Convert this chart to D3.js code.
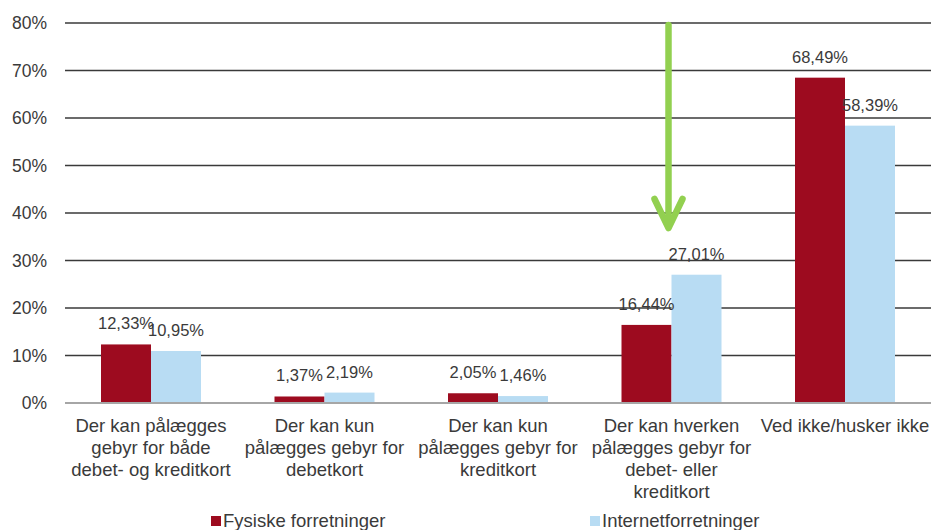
<!DOCTYPE html>
<html><head><meta charset="utf-8">
<script src="https://cdn.jsdelivr.net/npm/d3@7"></script>
<style>body{margin:0;background:#fff}svg{display:block}text{font-family:"Liberation Sans",Arial,sans-serif;fill:#3a3a3a}</style>
</head><body><svg id="c" width="931" height="530"></svg>
<script>
const categories = [
  ["Der kan pålægges","gebyr for både","debet- og kreditkort"],
  ["Der kan kun","pålægges gebyr for","debetkort"],
  ["Der kan kun","pålægges gebyr for","kreditkort"],
  ["Der kan hverken","pålægges gebyr for","debet- eller","kreditkort"],
  ["Ved ikke/husker ikke"]
];
const seriesNames = ["Fysiske forretninger","Internetforretninger"];
const fysiske = [12.33, 1.37, 2.05, 16.44, 68.49];
const internet = [10.95, 2.19, 1.46, 27.01, 58.39];
const yTicks = [0,10,20,30,40,50,60,70,80];
const colors = ["#9d0b1f","#b8dcf3"];

const svg = d3.select("#c");
const x = d3.scaleBand().domain(d3.range(categories.length)).range([64.25,931.75]);
const y = d3.scaleLinear().domain([0,80]).range([403,23]);
const sub = d3.scaleBand().domain([0,1]).range([0,100]);
const groupOffset = (x.bandwidth()-100)/2;

// gridlines
svg.append("g").selectAll("line").data(yTicks.filter(d=>d>0)).join("line")
  .attr("x1",65).attr("x2",931).attr("y1",d=>y(d)).attr("y2",d=>y(d))
  .attr("stroke","#3a3a3a").attr("stroke-width",1.4);

// y tick labels
svg.append("g").selectAll("text").data(yTicks).join("text")
  .attr("x",47).attr("y",d=>y(d)+6).attr("text-anchor","end")
  .style("font-size","17.5px").text(d=>d+"%");

const series = [fysiske, internet];
const fmt = v => v.toFixed(2).replace(".",",")+"%";
series.forEach((vals,s)=>{
  const g = svg.append("g");
  g.selectAll("rect").data(vals).join("rect")
    .attr("x",(d,i)=>x(i)+groupOffset+sub(s)).attr("width",sub.bandwidth())
    .attr("y",d=>y(d)).attr("height",d=>y(0)-y(d)).attr("fill",colors[s]);
});
// baseline
svg.append("line").attr("x1",65).attr("x2",931).attr("y1",y(0)).attr("y2",y(0))
  .attr("stroke","#a6a6a6").attr("stroke-width",2);
series.forEach((vals,s)=>{
  svg.append("g").selectAll("text").data(vals).join("text")
    .attr("x",(d,i)=>x(i)+groupOffset+sub(s)+sub.bandwidth()/2)
    .attr("y",d=>y(d)-15).attr("text-anchor","middle")
    .style("font-size","16.5px").text(fmt);
});

// category labels
const cg = svg.append("g");
categories.forEach((lines,i)=>{
  const t = cg.append("text").attr("text-anchor","middle").style("font-size","18.5px");
  lines.forEach((l,j)=>t.append("tspan").attr("x",x(i)+x.bandwidth()/2).attr("y",432+22*j).text(l));
});

// arrow
const arrow = svg.append("g").attr("stroke","#92d050").attr("stroke-width",6.5).attr("fill","none").attr("stroke-linecap","round").attr("stroke-linejoin","round");
const ax = x(3)+groupOffset+sub(1);
arrow.append("line").attr("x1",ax-3).attr("x2",ax-3).attr("y1",25).attr("y2",226);
arrow.append("polyline").attr("points",[[ax-17,199],[ax-3,228],[ax+11,199]].map(p=>p.join(",")).join(" "));

// legend
const legX = [211,590];
seriesNames.forEach((n,s)=>{
  svg.append("rect").attr("x",legX[s]).attr("y",516).attr("width",10).attr("height",10).attr("fill",colors[s]);
  svg.append("text").attr("x",legX[s]+12).attr("y",527).style("font-size","18.5px").text(n);
});
</script></body></html>
